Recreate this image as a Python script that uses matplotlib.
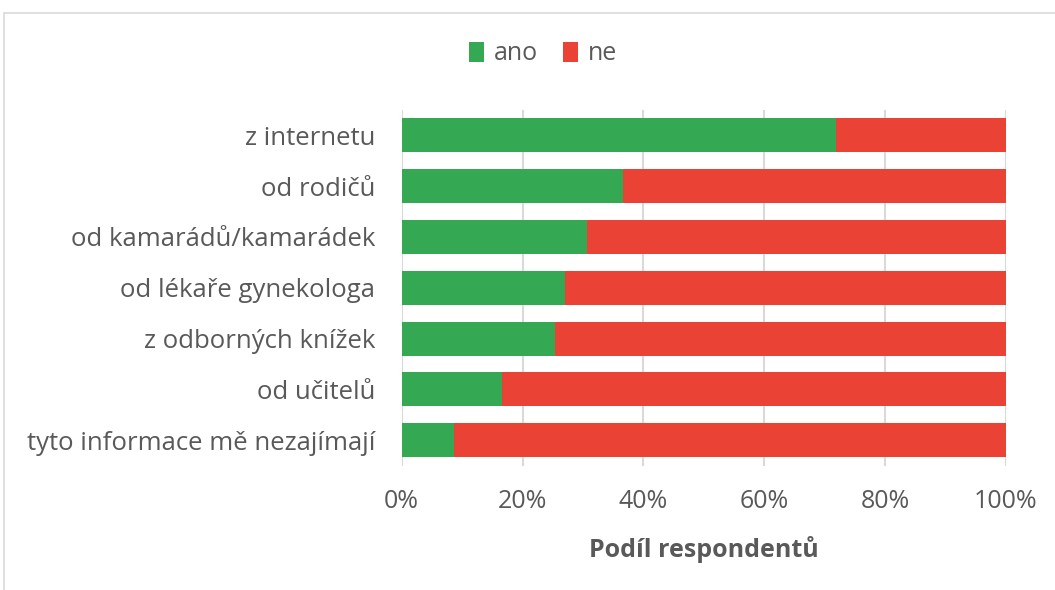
import matplotlib
matplotlib.use('Agg')
import matplotlib.pyplot as plt
import numpy as np
from matplotlib.patches import Rectangle
from matplotlib.ticker import PercentFormatter

categories = ['z internetu', 'od rodičů', 'od kamarádů/kamarádek', 'od lékaře gynekologa',
              'z odborných knížek', 'od učitelů', 'tyto informace mě nezajímají']
ano = [71.8, 36.7, 30.7, 27.1, 25.3, 16.6, 8.6]
ne = [100 - v for v in ano]

green = '#34A853'
red = '#EA4335'
grey = '#595959'
fs = 18

plt.rcParams['font.family'] = ['Open Sans', 'DejaVu Sans']

fig = plt.figure(figsize=(10.55, 5.9), dpi=100)
ax = fig.add_axes([401.7 / 1055, 1 - 465.6 / 590, (1006 - 401.7) / 1055, (465.6 - 110) / 590])

# outer frame
fig.patches.append(Rectangle((4 / 1055, -0.1), 1.2, 1 - 13 / 590 + 0.1, transform=fig.transFigure,
                             fill=False, edgecolor='#d9d9d9', linewidth=1.2))

y = np.arange(len(categories))
ax.barh(y, ano, height=0.67, color=green, label='ano', zorder=3)
ax.barh(y, ne, left=ano, height=0.67, color=red, label='ne', zorder=3)

ax.set_xlim(0, 100)
ax.set_ylim(len(categories) - 0.5, -0.5)
ax.set_yticks(y)
ax.set_yticklabels(categories, fontsize=18.5)
ax.set_xticks(np.arange(0, 101, 20))
ax.xaxis.set_major_formatter(PercentFormatter(decimals=0))
ax.tick_params(axis='both', length=0, labelcolor=grey)
ax.tick_params(axis='x', pad=17, labelsize=fs)
ax.tick_params(axis='y', pad=19)
ax.grid(axis='x', color='#d9d9d9', linewidth=1.5, zorder=0)
for s in ax.spines.values():
    s.set_visible(False)

ax.set_xlabel('Podíl respondentů', fontsize=fs, fontweight='bold', color=grey, labelpad=16)

fig.legend(loc='center', bbox_to_anchor=(543 / 1055, 1 - 54 / 590), ncol=2, frameon=False,
           fontsize=fs, labelcolor=grey, handlelength=0.6, handleheight=0.9, handletextpad=0.4,
           columnspacing=1.0)

fig.savefig('out.png', dpi=100)
